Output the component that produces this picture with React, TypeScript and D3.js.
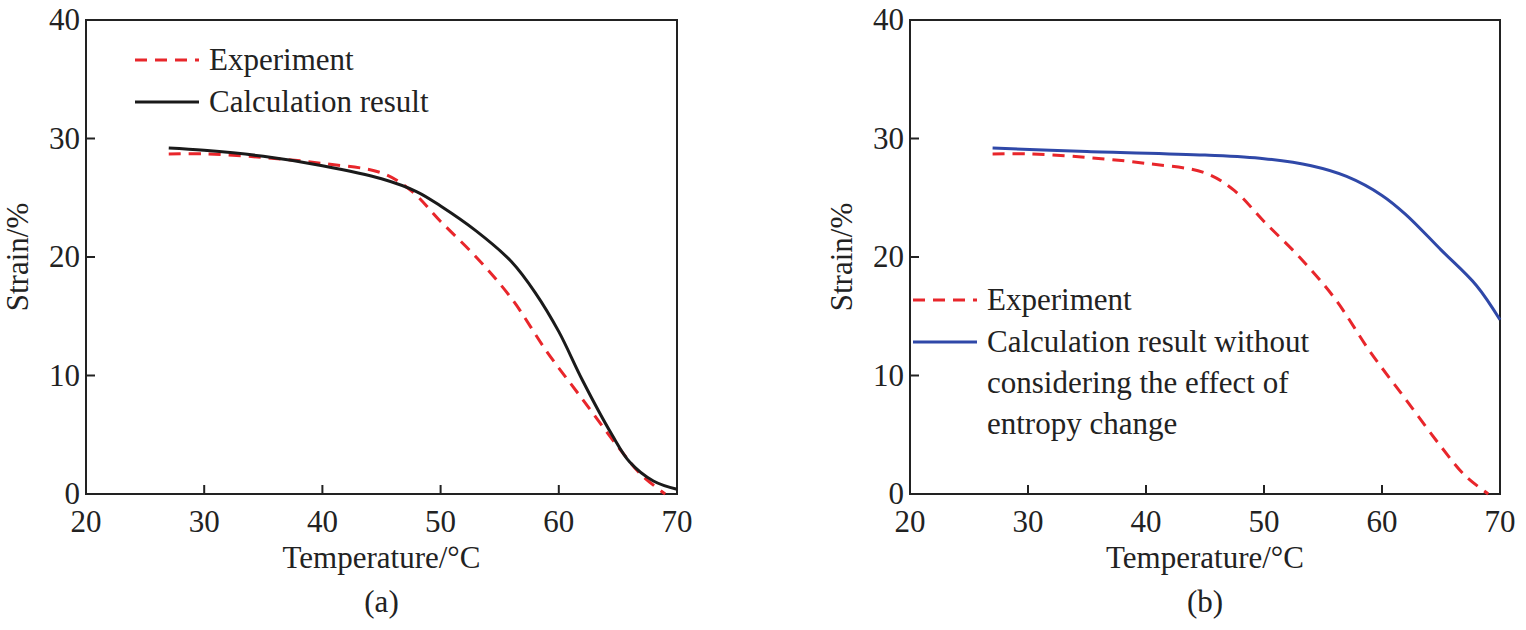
import React from "react";
import * as d3 from "d3";

const expX = [27, 30, 35, 40, 45, 47.5, 50, 53, 56, 59, 62, 65, 67, 69];
const expY = [28.7, 28.7, 28.4, 27.9, 27.1, 25.6, 23, 20, 16.5, 12, 8, 4, 1.6, 0];
const calcX = [27, 30, 35, 40, 45, 48, 50, 53, 56, 58, 60, 62, 64.5, 66, 68, 70];
const calcY = [29.2, 29, 28.5, 27.7, 26.6, 25.5, 24.3, 22.2, 19.6, 17, 13.7, 9.6, 5, 2.7, 1.1, 0.4];
const noEntX = [27, 35, 45, 50, 54, 57, 60, 62, 65, 68, 70];
const noEntY = [29.2, 28.9, 28.6, 28.3, 27.7, 26.8, 25.2, 23.6, 20.6, 17.6, 14.7];
const xTicks = [20, 30, 40, 50, 60, 70];
const yTicks = [0, 10, 20, 30, 40];

const font = "'Liberation Serif', 'DejaVu Serif', serif";
const fs = 31;

type Series = { xs: number[]; ys: number[]; color: string; dash?: string };

function Panel({ left, right, label, series, legend }: {
  left: number; right: number; label: string; series: Series[];
  legend: { x: number; rows: { y: number; lines: string[]; color: string; dash?: string }[] };
}) {
  const top = 20, bottom = 494;
  const x = d3.scaleLinear().domain([20, 70]).range([left, right]);
  const y = d3.scaleLinear().domain([0, 40]).range([bottom, top]);
  const line = d3.line<number>().curve(d3.curveCatmullRom.alpha(0.5));
  return (
    <g fontFamily={font} fill="#222">
      <rect x={left} y={top} width={right - left} height={bottom - top} fill="none" stroke="#222" strokeWidth={2} />
      {xTicks.slice(1, -1).map((t) => (
        <line key={t} x1={x(t)} x2={x(t)} y1={bottom} y2={bottom - 9} stroke="#222" strokeWidth={2} />
      ))}
      {yTicks.slice(1, -1).map((t) => (
        <line key={t} x1={left} x2={left + 9} y1={y(t)} y2={y(t)} stroke="#222" strokeWidth={2} />
      ))}
      {xTicks.map((t) => (
        <text key={t} x={x(t)} y={bottom + 38} textAnchor="middle" fontSize={fs}>{t}</text>
      ))}
      {yTicks.map((t) => (
        <text key={t} x={left - 6} y={y(t) + 10} textAnchor="end" fontSize={fs}>{t}</text>
      ))}
      <text transform={`translate(${left - 58},${(top + bottom) / 2}) rotate(-90)`} textAnchor="middle" fontSize={fs}>Strain/%</text>
      <text x={(left + right) / 2} y={bottom + 74} textAnchor="middle" fontSize={fs}>Temperature/°C</text>
      <text x={(left + right) / 2} y={bottom + 118} textAnchor="middle" fontSize={fs}>{label}</text>
      {series.map((s, i) => (
        <path key={i} d={line.x((_, j) => x(s.xs[j])).y((v) => y(v))(s.ys) ?? ""} fill="none"
          stroke={s.color} strokeWidth={3} strokeDasharray={s.dash} />
      ))}
      {legend.rows.map((r, i) => (
        <g key={i}>
          <line x1={legend.x} x2={legend.x + 64} y1={r.y} y2={r.y} stroke={r.color} strokeWidth={3} strokeDasharray={r.dash} />
          {r.lines.map((t, k) => (
            <text key={k} x={legend.x + 74} y={r.y + 10 + k * 41} fontSize={fs}>{t}</text>
          ))}
        </g>
      ))}
    </g>
  );
}

export default function App() {
  const red = "#e8262b", blk = "#1a1a1a", blue = "#2f48a8", dash = "12 8";
  return (
    <svg width={1526} height={630} style={{ position: "absolute", left: 0, top: 0, background: "#fff" }}>
      <Panel left={86} right={677} label="(a)"
        series={[{ xs: expX, ys: expY, color: red, dash }, { xs: calcX, ys: calcY, color: blk }]}
        legend={{ x: 135, rows: [
          { y: 60, lines: ["Experiment"], color: red, dash },
          { y: 102, lines: ["Calculation result"], color: blk },
        ] }} />
      <Panel left={910} right={1500} label="(b)"
        series={[{ xs: expX, ys: expY, color: red, dash }, { xs: noEntX, ys: noEntY, color: blue }]}
        legend={{ x: 913, rows: [
          { y: 300, lines: ["Experiment"], color: red, dash },
          { y: 342, lines: ["Calculation result without", "considering the effect of", "entropy change"], color: blue },
        ] }} />
    </svg>
  );
}
